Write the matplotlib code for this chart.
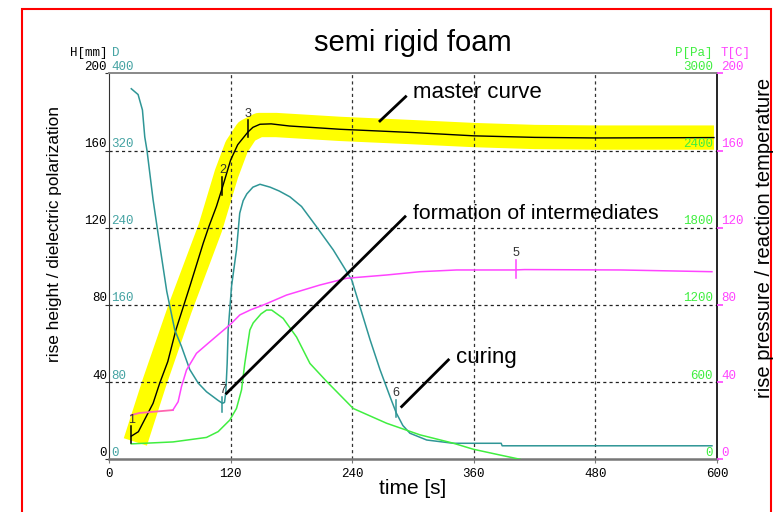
import matplotlib
matplotlib.use('Agg')
import matplotlib.pyplot as plt
import matplotlib.transforms as mtransforms
from matplotlib.patches import Rectangle

# ---------------- data ----------------
x_ticks = [0, 120, 240, 360, 480, 600]
h_ticks = [0, 40, 80, 120, 160, 200]
d_ticks = [0, 80, 160, 240, 320, 400]
p_ticks = [0, 600, 1200, 1800, 2400, 3000]
t_ticks = [0, 40, 80, 120, 160, 200]

# master curve (rise height H [mm])
master_t = [22, 29, 35, 43.5, 50, 58, 66, 80, 93, 98.5, 106, 112, 120, 127, 137, 142, 149, 160, 178, 228, 300, 360, 420, 480, 540, 597]
master_h = [12, 14.3, 20.4, 29, 39.4, 50.6, 67, 90, 112, 120.5, 131, 141, 155, 163, 169.5, 172, 173.6, 173.8, 172.7, 171, 169.3, 167.6, 166.8, 166.5, 166.6, 166.7]

# master curve tolerance band (H [mm])
band_t = [26, 45, 70, 100, 116, 126, 136, 148, 165, 228, 300, 360, 420, 480, 540, 597]
band_h = [9, 40, 78, 120, 148, 162, 170, 173.2, 173.2, 171.2, 169.5, 168, 167, 166.7, 166.7, 166.7]

# dielectric polarization D
dp_t = [22, 28.7, 33, 35.3, 37.5, 43.5, 48.4, 50.8, 57, 64.9, 71.5, 79.7, 88, 96.2, 107.7, 112, 114, 115.3, 116.6, 117.6,
        121, 125.8, 129, 132.4, 136, 142, 149, 159, 168, 178.5, 190, 204.8, 221.3, 239.5, 247.7, 257.6, 267.4, 277.3,
        283.5, 290, 297, 313.5, 339.8, 387, 388, 595]
dp_v = [384, 378, 362, 334, 320, 269, 234, 217, 174, 134, 117, 93, 79, 70, 61, 58, 59, 70, 99, 134,
        180, 217, 255, 268, 275, 282, 285, 282, 278, 272, 262, 241, 217, 186, 158, 124, 93, 65,
        48, 35, 27, 20, 16.6, 16.6, 14, 14]

# reaction temperature T [C]
temp_t = [22, 30, 63, 68.2, 71.5, 76.5, 86.3, 97.8, 109.4, 120, 129.1, 140, 152.1, 175.2, 208.1, 234.5, 274, 307, 343, 400, 410, 505, 595]
temp_v = [22.9, 24, 25.5, 29.8, 37.6, 46.3, 54.9, 60.1, 65.3, 70, 74.8, 77.5, 79.9, 85.1, 90.3, 93.8, 95.5, 97.2, 98.1, 98.1, 98.3, 98.1, 97.2]

# rise pressure P [Pa]
pres_t = [22, 63.2, 96.2, 107.7, 119.2, 125.8, 130.8, 134, 139, 142.3, 150, 155.5, 160.5, 171.9, 185.1, 198.3, 214.8, 241, 274, 306.9, 339.8, 359.6, 386, 405.7]
pres_v = [120, 135, 170, 215, 305, 395, 540, 745, 1005, 1060, 1130, 1160, 1160, 1095, 950, 745, 605, 395, 280, 190, 125, 78, 33, 0]

# numbered markers (t, lower, upper in H/T scale)
marker_labels = ['1', '2', '3', '5', '6', '7']
marker_t = [22, 112, 137, 401.5, 283.2, 112]
marker_lo = [8.5, 137, 167, 94.1, 22, 24.7]
marker_hi = [17, 146.4, 175.6, 103.2, 30.7, 32.3]

# ---------------- style ----------------
C_TEAL = '#2f9696'
C_TEAL_L = '#45a3a3'
C_GREEN = '#40ee40'
C_MAG = '#ff44ff'
C_PINK = '#ff66b0'
SANS = 'Liberation Sans'
MONO = 'Liberation Mono'

fig = plt.figure(figsize=(7.75, 5.12), dpi=100)
ax = fig.add_axes([109 / 775, 1 - 459.3 / 512, (717 - 109) / 775, (459.3 - 73.3) / 512])
axD = ax.twinx()
axP = ax.twinx()
axT = ax.twinx()

ax.set_xlim(0, 600)
ax.set_ylim(0, 200)
axD.set_ylim(0, 400)
axP.set_ylim(0, 3000)
axT.set_ylim(0, 200)

for a in (axD, axP, axT):
    for s in a.spines.values():
        s.set_visible(False)
axD.set_yticks([])
axP.set_yticks([])

ax.spines['top'].set_color('#888888')
ax.spines['top'].set_linewidth(1.4)
ax.spines['bottom'].set_color('#777777')
ax.spines['bottom'].set_linewidth(1.8)
ax.spines['left'].set_color('#333333')
ax.spines['right'].set_color('black')
ax.spines['right'].set_linewidth(1.2)

# grid
for xv in x_ticks[1:-1]:
    ax.axvline(xv, color='#333333', lw=0.9, ls=(0, (2.5, 2.5)), zorder=1.5)
for yv in h_ticks[1:-1]:
    ax.axhline(yv, color='#222222', lw=0.9, ls=(0, (2.5, 2.5)), zorder=1.5)

# band and master curve
ax.plot(band_t, band_h, color='#ffff00', lw=17.5, solid_capstyle='butt', solid_joinstyle='round', zorder=1)
ax.plot(master_t, master_h, color='black', lw=1.0, zorder=3)

# curves
axD.plot(dp_t, dp_v, color=C_TEAL, lw=1.1)
axP.plot(pres_t, pres_v, color=C_GREEN, lw=1.1)
axT.plot(temp_t[:3], temp_v[:3], color=C_PINK, lw=1.3)
axT.plot(temp_t[2:], temp_v[2:], color=C_MAG, lw=1.1)

# ticks
ax.set_xticks(x_ticks)
ax.set_xticklabels([str(v) for v in x_ticks], fontfamily=MONO, fontsize=9)
ax.tick_params(axis='x', direction='out', length=3, pad=3, color='#777777')
ax.set_yticks(h_ticks)
ax.set_yticklabels([])
ax.tick_params(axis='y', direction='out', length=3, color='#333333')
axT.set_yticks(t_ticks)
axT.set_yticklabels([])
axT.tick_params(axis='y', direction='out', length=4, width=1.2, color=C_MAG)

# custom y tick labels
fs_t = 9
trL = mtransforms.offset_copy(mtransforms.blended_transform_factory(ax.transAxes, ax.transData), fig=fig, x=-2, y=0.5, units='dots')
for v in h_ticks:
    ax.text(0, v, str(v), transform=trL, ha='right', va='bottom', fontfamily=MONO, fontsize=fs_t, color='black')
trD = mtransforms.offset_copy(mtransforms.blended_transform_factory(axD.transAxes, axD.transData), fig=fig, x=2, y=0.5, units='dots')
for v in d_ticks:
    axD.text(0, v, str(v), transform=trD, ha='left', va='bottom', fontfamily=MONO, fontsize=fs_t, color=C_TEAL_L)
trP = mtransforms.offset_copy(mtransforms.blended_transform_factory(axP.transAxes, axP.transData), fig=fig, x=-4, y=0.5, units='dots')
for v in p_ticks:
    axP.text(1, v, str(v), transform=trP, ha='right', va='bottom', fontfamily=MONO, fontsize=fs_t, color=C_GREEN)
trT = mtransforms.offset_copy(mtransforms.blended_transform_factory(axT.transAxes, axT.transData), fig=fig, x=4, y=0.5, units='dots')
for v in t_ticks:
    axT.text(1, v, str(v), transform=trT, ha='left', va='bottom', fontfamily=MONO, fontsize=fs_t, color=C_MAG)

# unit headers
ax.text(-0.003, 1.052, 'H[mm]', transform=ax.transAxes, ha='right', va='center', fontfamily=MONO, fontsize=fs_t, color='black')
ax.text(0.005, 1.052, 'D', transform=ax.transAxes, ha='left', va='center', fontfamily=MONO, fontsize=fs_t, color=C_TEAL_L)
ax.text(0.993, 1.052, 'P[Pa]', transform=ax.transAxes, ha='right', va='center', fontfamily=MONO, fontsize=fs_t, color=C_GREEN)
ax.text(1.006, 1.052, 'T[C]', transform=ax.transAxes, ha='left', va='center', fontfamily=MONO, fontsize=fs_t, color=C_MAG)

# markers
mcols = ['black', 'black', 'black', C_MAG, C_TEAL, C_TEAL]
for lab, t, lo, hi, c in zip(marker_labels, marker_t, marker_lo, marker_hi, mcols):
    axT.plot([t, t], [lo, hi], color=c, lw=1.1)
    axT.annotate(lab, xy=(t, hi), xytext=(0, 0.5), textcoords='offset points', ha='center', va='bottom',
                 fontfamily=SANS, fontsize=9, color='#333333')

# annotations
axT.plot([267.4, 292.8], [175.3, 187.9], color='black', lw=2)
axT.text(300, 190.3, 'master curve', ha='left', va='center', fontfamily=SANS, fontsize=16)
axT.plot([116, 292.1], [34.2, 125.7], color='black', lw=2)
axT.text(300, 127.1, 'formation of intermediates', ha='left', va='center', fontfamily=SANS, fontsize=15.3)
axT.plot([288.8, 334.9], [27.3, 51.5], color='black', lw=2)
axT.text(342.5, 53, 'curing', ha='left', va='center', fontfamily=SANS, fontsize=16)

# titles / labels
fig.text(413 / 775, 1 - 43 / 512, 'semi rigid foam', ha='center', va='center', fontfamily=SANS, fontsize=21)
fig.text(413 / 775, 1 - 488 / 512, 'time [s]', ha='center', va='center', fontfamily=SANS, fontsize=15)
fig.text(55 / 775, 1 - 234.5 / 512, 'rise height / dielectric polarization', rotation=90, ha='center', va='center',
         fontfamily=SANS, fontsize=12.4)
fig.text(765 / 775, 1 - 238 / 512, 'rise pressure / reaction temperature', rotation=90, ha='center', va='center',
         fontfamily=SANS, fontsize=14.5)

# red frame
fig.patches.append(Rectangle((22 / 775, -0.02), (771 - 22) / 775, (1 - 9 / 512) + 0.02, transform=fig.transFigure,
                             fill=False, edgecolor='#ff0000', lw=1.5))

fig.savefig('out.png', dpi=100)
